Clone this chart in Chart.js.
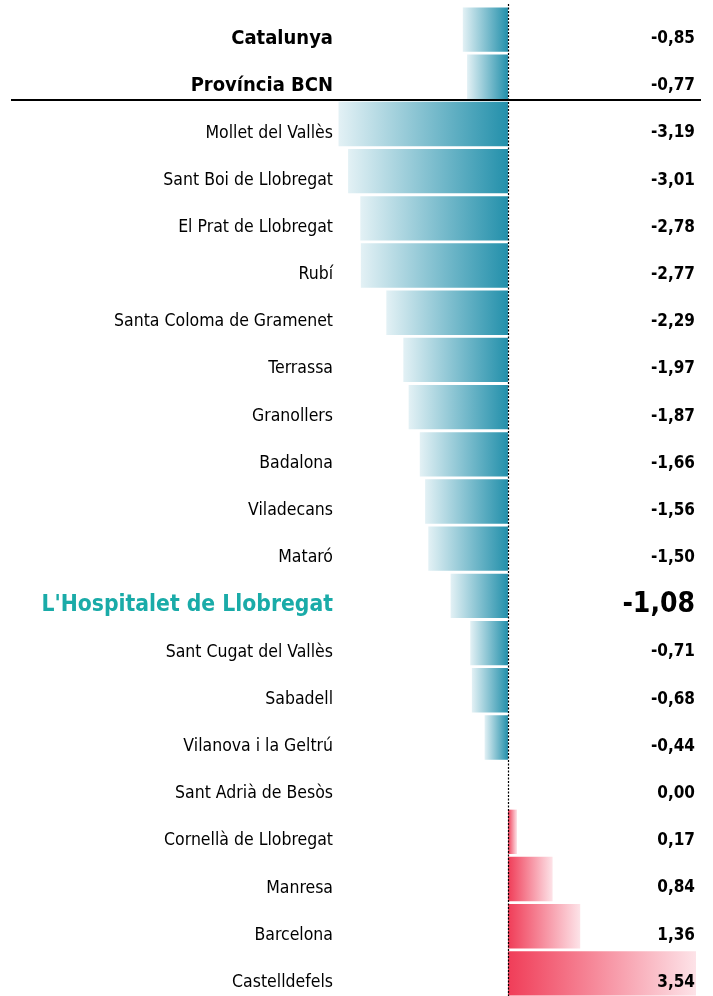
<!DOCTYPE html>
<html>
<head>
<meta charset="utf-8">
<script src="https://cdn.jsdelivr.net/npm/chart.js@4/dist/chart.umd.min.js"></script>
<style>
  html, body { margin: 0; padding: 0; background: #fff; overflow: hidden; }
  #wrap { width: 713px; height: 996px; overflow: hidden; }
</style>
</head>
<body>
<div id="wrap"><canvas id="chart" width="713" height="1000"></canvas></div>
<script>
// data
const categories = [
  'Catalunya', 'Província BCN', 'Mollet del Vallès', 'Sant Boi de Llobregat',
  'El Prat de Llobregat', 'Rubí', 'Santa Coloma de Gramenet', 'Terrassa',
  'Granollers', 'Badalona', 'Viladecans', 'Mataró', "L'Hospitalet de Llobregat",
  'Sant Cugat del Vallès', 'Sabadell', 'Vilanova i la Geltrú', 'Sant Adrià de Besòs',
  'Cornellà de Llobregat', 'Manresa', 'Barcelona', 'Castelldefels'
];
const values = [
  -0.85, -0.77, -3.19, -3.01, -2.78, -2.77, -2.29, -1.97, -1.87, -1.66, -1.56,
  -1.50, -1.08, -0.71, -0.68, -0.44, 0.00, 0.17, 0.84, 1.36, 3.54
];
const boldRows = [0, 1];
const highlightRow = 12;

const FONT = "'Liberation Sans Narrow', 'DejaVu Sans Condensed', 'Liberation Sans', sans-serif";

// gradient for each bar: dark at zero, fading out towards the bar end
function barFill(ctx) {
  const chart = ctx.chart;
  if (!chart.chartArea) return '#2590aa';
  const v = ctx.raw;
  const x0 = chart.scales.x.getPixelForValue(0);
  const x1 = chart.scales.x.getPixelForValue(v);
  if (Math.abs(x1 - x0) < 0.5) return 'rgba(0,0,0,0)';
  const g = chart.ctx.createLinearGradient(x0, 0, x1, 0);
  if (v < 0) {
    g.addColorStop(0, '#2390ab');
    g.addColorStop(1, '#e3f1f5');
  } else {
    g.addColorStop(0, '#f03d58');
    g.addColorStop(1, '#fde3e8');
  }
  return g;
}

const linesAndLabels = {
  id: 'linesAndLabels',
  afterDatasetsDraw(chart) {
    const c = chart.ctx;
    const xs = chart.scales.x, ys = chart.scales.y;
    const x0 = Math.round(xs.getPixelForValue(0)) + 0.5;

    // dotted zero line
    c.save();
    c.strokeStyle = '#000';
    c.lineWidth = 1.2;
    c.setLineDash([2, 1.5]);
    c.beginPath();
    c.moveTo(x0, 4);
    c.lineTo(x0, chart.height);
    c.stroke();
    c.restore();

    // separator under the two aggregate rows
    const yl = Math.round((ys.getPixelForValue(1) + ys.getPixelForValue(2)) / 2);
    c.save();
    c.strokeStyle = '#000';
    c.lineWidth = 2;
    c.beginPath();
    c.moveTo(11, yl);
    c.lineTo(701, yl);
    c.stroke();
    c.restore();

    // value labels on the right
    c.save();
    c.fillStyle = '#000';
    c.textAlign = 'right';
    c.textBaseline = 'middle';
    values.forEach((v, i) => {
      const y = ys.getPixelForValue(i) + 9;
      c.font = (i === highlightRow ? 'bold 28px ' : 'bold 17px ') + FONT;
      c.fillText(v.toFixed(2).replace('.', ','), 695, y);
    });
    c.restore();
  }
};

new Chart(document.getElementById('chart'), {
  type: 'bar',
  data: {
    labels: categories,
    datasets: [{
      data: values,
      backgroundColor: barFill,
      borderWidth: 0,
      barPercentage: 0.94,
      categoryPercentage: 1
    }]
  },
  options: {
    indexAxis: 'y',
    responsive: false,
    animation: false,
    layout: { padding: { top: 6, bottom: 3, left: 0, right: 0 } },
    plugins: { legend: { display: false }, tooltip: { enabled: false } },
    scales: {
      x: {
        display: false,
        min: -3.2,
        max: 3.86
      },
      y: {
        grid: { display: false, drawTicks: false },
        border: { display: false },
        afterFit(scale) {
          scale.width = 338;
          scale.paddingTop = 0;
          scale.paddingBottom = 0;
        },
        ticks: {
          padding: 5,
          labelOffset: 9,
          color: (ctx) => ctx.index === highlightRow ? '#1aaba8' : '#000',
          font: (ctx) => {
            if (ctx.index === highlightRow) return { family: FONT, size: 22.7, weight: 'bold' };
            if (boldRows.includes(ctx.index)) return { family: FONT, size: 20, weight: 'bold' };
            return { family: FONT, size: 17.5 };
          }
        }
      }
    }
  },
  plugins: [linesAndLabels]
});
</script>
</body>
</html>
